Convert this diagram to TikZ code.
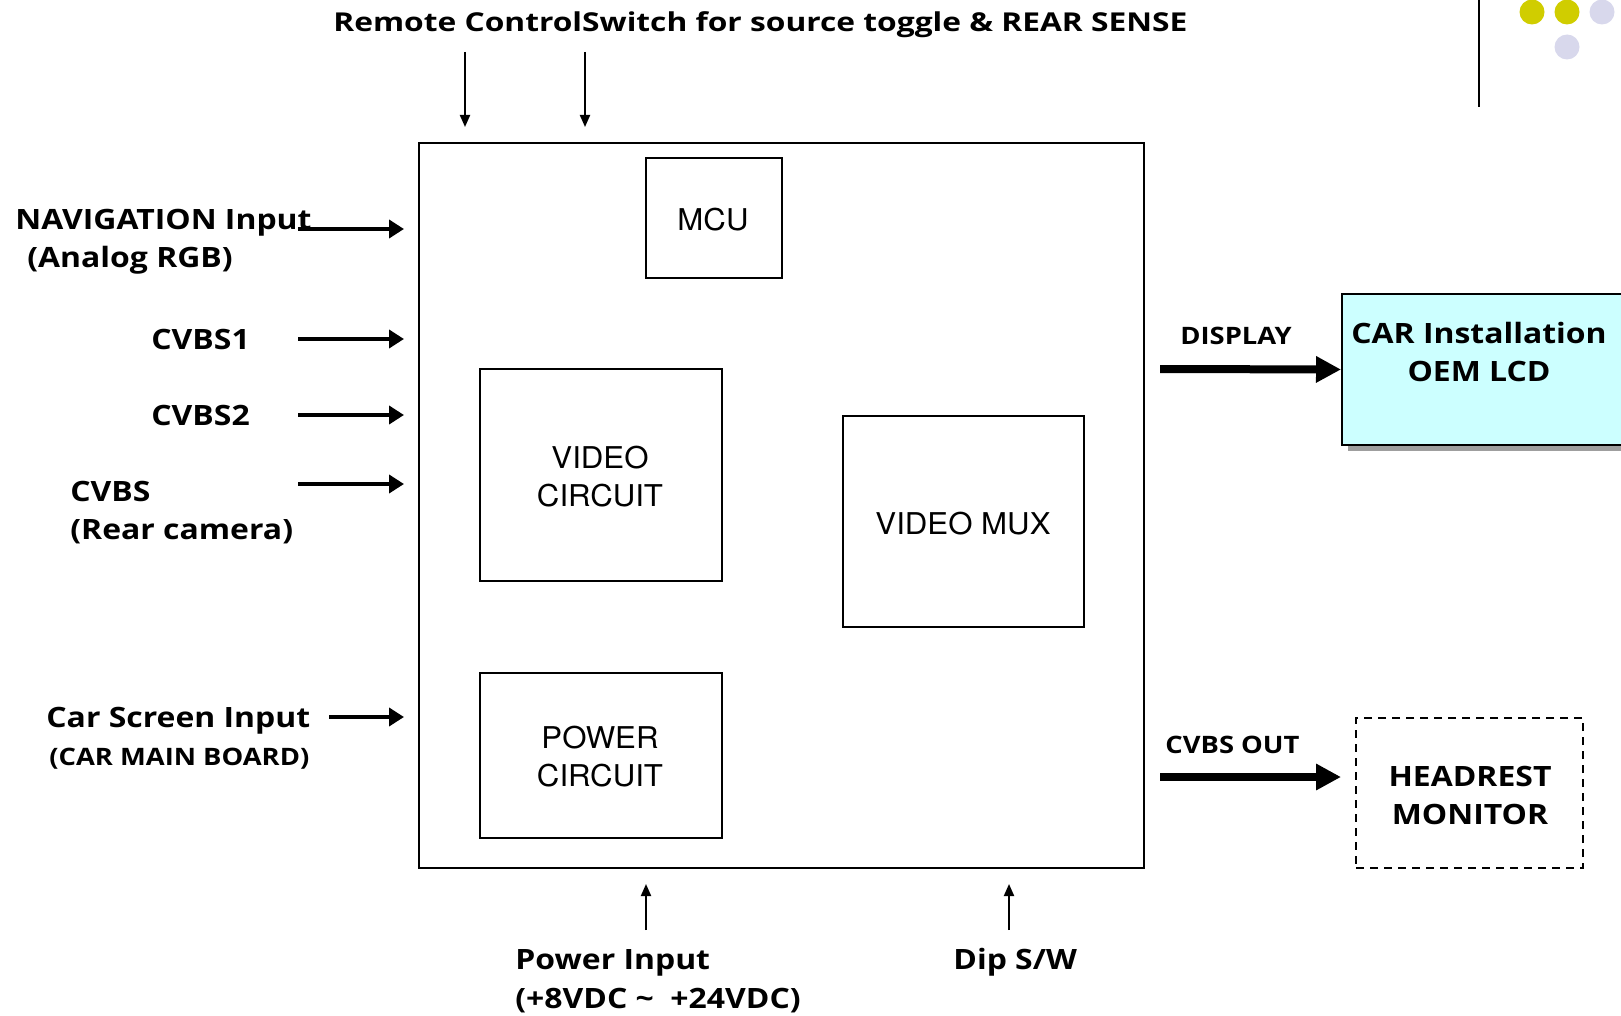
\documentclass[tikz,border=0pt]{standalone}
\usepackage{fontspec}
\setmainfont{Open Sans}[FakeStretch=1.14]
\newfontfamily\titlefont{Open Sans}[FakeStretch=1.22]
\newfontfamily\boxfont{TeX Gyre Heros}[FakeStretch=1.04]
\usetikzlibrary{arrows.meta,fit}
\definecolor{lcdcyan}{HTML}{CCFFFF}
\definecolor{dotyellow}{RGB}{208,205,0}
\definecolor{dotlav}{RGB}{216,216,236}
\begin{document}
\begin{tikzpicture}[x=0.5pt,y=-0.5pt,
  box/.style={draw, line width=1pt, inner sep=0pt},
  blk/.style={font=\boxfont\fontsize{15}{19}\selectfont, align=center, inner sep=0pt},
  lbl/.style={font=\bfseries\fontsize{14}{19}\selectfont, inner sep=0pt, anchor=base west},
  smlbl/.style={font=\bfseries\fontsize{12}{19}\selectfont, inner sep=0pt, anchor=base west},
  biglbl/.style={font=\bfseries\fontsize{14}{19}\selectfont, inner sep=0pt, align=center},
  thinarrow/.style={line width=1pt, -{Triangle[length=6pt,width=5pt]}},
  midarrow/.style={line width=2pt, -{Triangle[length=7.5pt,width=9pt]}},
  fatarrow/.style={line width=4pt, -{Triangle[length=12.5pt,width=12.5pt]}},
]
\useasboundingbox (0,0) rectangle (1621,1016);

% decorations top right
\draw[line width=1pt] (1479,0) -- (1479,107);
\fill[dotyellow] (1532,12) circle (12.5);
\fill[dotyellow] (1567,12) circle (12.5);
\fill[dotlav] (1602,12) circle (12.5);
\fill[dotlav] (1567,47) circle (12.5);

% main box and blocks
\node[box, fit={(419,143) (1144,868)}] (main) {};
\node[box, fit={(646,158) (782,278)}] (mcu) {};
\node[blk] (mcut) at (713,220) {MCU};
\node[box, fit={(480,369) (722,581)}] (vc) {};
\node[blk] (vct) at (600,477) {VIDEO\\CIRCUIT};
\node[box, fit={(843,416) (1084,627)}] (mux) {};
\node[blk] (muxt) at (963,524) {VIDEO MUX};
\node[box, fit={(480,673) (722,838)}] (pc) {};
\node[blk] (pct) at (600,757) {POWER\\CIRCUIT};

% LCD box with shadow
\begin{scope}
\clip (0,0) rectangle (1621,1016);
\fill[gray!75] (1348,300) rectangle (1640,451);
\node[box, fill=lcdcyan, fit={(1342,294) (1635,445)}] (lcd) {};
\end{scope}
\node[biglbl] (lcdt) at (1479,352) {CAR Installation\\OEM LCD};

% headrest
\node[box, dashed, dash pattern=on 4pt off 3pt, fit={(1356,718) (1583,868)}] (hr) {};
\node[biglbl] (hrt) at (1470,795) {HEADREST\\MONITOR};

% top texts and arrows
\node[font=\titlefont\bfseries\fontsize{13}{16}\selectfont, inner sep=0pt, anchor=base west] (title) at (333,32) {Remote ControlSwitch for source toggle \& REAR SENSE};
\coordinate (ta1) at (465,52); \coordinate (tb1) at (465,127);
\coordinate (ta2) at (585,52); \coordinate (tb2) at (585,127);
\draw[thinarrow] (ta1) -- (tb1);
\draw[thinarrow] (ta2) -- (tb2);

% left inputs
\node[lbl] (nav1) at (15,230) {NAVIGATION Input};
\node[lbl] (nav2) at (27,268) {(Analog RGB)};
\node[lbl] (cv1) at (151,349) {CVBS1};
\node[lbl] (cv2) at (151,425) {CVBS2};
\node[lbl] (cvr1) at (70,501) {CVBS};
\node[lbl] (cvr2) at (70,539) {(Rear camera)};
\node[lbl] (car1) at (46,727) {Car Screen Input};
\node[smlbl] (car2) at (49,765) {(CAR MAIN BOARD)};

\coordinate (n0) at (298,229); \coordinate (n1) at (404,229);
\coordinate (c10) at (298,339); \coordinate (c11) at (404,339);
\coordinate (c20) at (298,415); \coordinate (c21) at (404,415);
\coordinate (r0) at (298,484); \coordinate (r1) at (404,484);
\coordinate (s0) at (329,717); \coordinate (s1) at (404,717);
\draw[midarrow] (n0) -- (n1);
\draw[midarrow] (c10) -- (c11);
\draw[midarrow] (c20) -- (c21);
\draw[midarrow] (r0) -- (r1);
\draw[midarrow] (s0) -- (s1);

% right outputs
\node[font=\bfseries\fontsize{12}{16}\selectfont, inner sep=0pt, anchor=base west] (disp) at (1180,344) {DISPLAY};
\node[font=\bfseries\fontsize{12}{16}\selectfont, inner sep=0pt, anchor=base west] (cvo) at (1165,753) {CVBS OUT};
\coordinate (d0) at (1160,369);
\coordinate (o0) at (1160,777); \coordinate (o1) at (1341,777);
\draw[fatarrow] (d0) -- (lcd.west);
\draw[fatarrow] (o0) -- (o1);

% bottom inputs
\node[lbl] (pw1) at (515,969) {Power Input};
\node[lbl] (pw2) at (515,1008) {(+8VDC \textasciitilde\ \ +24VDC)};
\node[lbl] (dip) at (953,969) {Dip S/W};
\coordinate (p0) at (646,930); \coordinate (p1) at (646,884);
\coordinate (q0) at (1009,930); \coordinate (q1) at (1009,884);
\draw[thinarrow] (p0) -- (p1);
\draw[thinarrow] (q0) -- (q1);
\end{tikzpicture}
\end{document}
